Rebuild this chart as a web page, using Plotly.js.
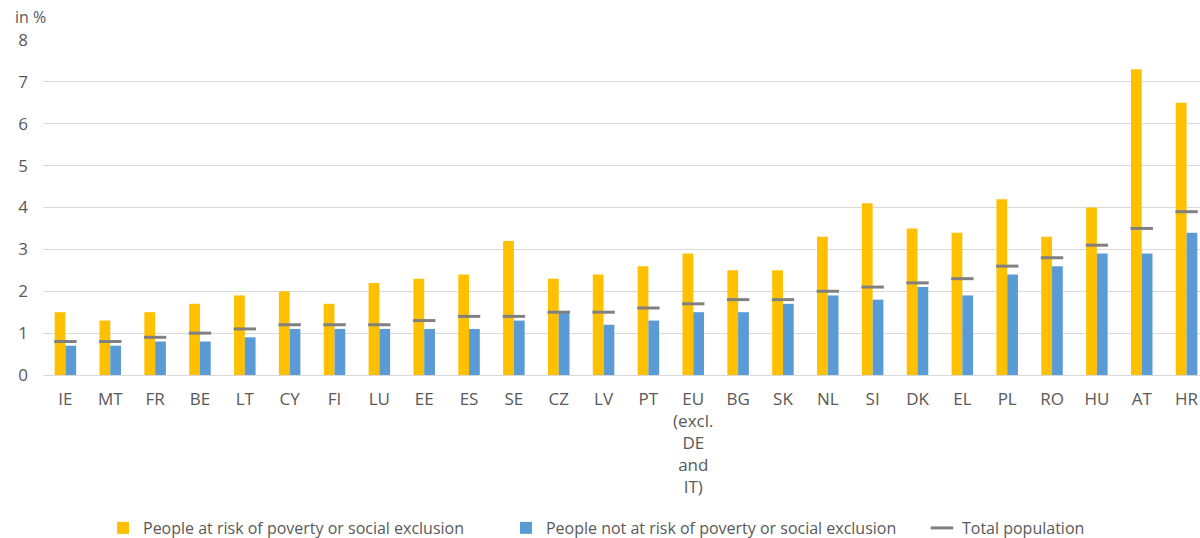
<!DOCTYPE html>
<html>
<head>
<meta charset="utf-8">
<script src="https://cdn.plot.ly/plotly-3.0.1.min.js"></script>
<style>html,body{margin:0;padding:0;overflow:hidden;background:#fff;}#chart{width:1209px;height:538px;}</style>
</head>
<body>
<div id="chart"></div>
<script>
const categories = ["IE","MT","FR","BE","LT","CY","FI","LU","EE","ES","SE","CZ","LV","PT","EU<br>(excl.<br>DE<br>and<br>IT)","BG","SK","NL","SI","DK","EL","PL","RO","HU","AT","HR"];
const atRisk    = [1.5,1.3,1.5,1.7,1.9,2.0,1.7,2.2,2.3,2.4,3.2,2.3,2.4,2.6,2.9,2.5,2.5,3.3,4.1,3.5,3.4,4.2,3.3,4.0,7.3,6.5];
const notAtRisk = [0.7,0.7,0.8,0.8,0.9,1.1,1.1,1.1,1.1,1.1,1.3,1.5,1.2,1.3,1.5,1.5,1.7,1.9,1.8,2.1,1.9,2.4,2.6,2.9,2.9,3.4];
const totalPop  = [0.8,0.8,0.9,1.0,1.1,1.2,1.2,1.2,1.3,1.4,1.4,1.5,1.5,1.6,1.7,1.8,1.8,2.0,2.1,2.2,2.3,2.6,2.8,3.1,3.5,3.9];
const seriesNames = ["People at risk of poverty or social exclusion","People not at risk of poverty or social exclusion","Total population"];
const yTicks = [0,1,2,3,4,5,6,7,8];

const font = {family: "Open Sans, Liberation Sans, sans-serif", color: "#595959"};
const legFont = Object.assign({size: 16}, font);

const traces = [
  {type: "bar", name: seriesNames[0], x: categories, y: atRisk, marker: {color: "#FFC000"}, hoverinfo: "y", legend: "legend"},
  {type: "bar", name: seriesNames[1], x: categories, y: notAtRisk, marker: {color: "#5B9BD5"}, hoverinfo: "y", legend: "legend2"},
  {type: "scatter", mode: "markers", name: seriesNames[2], x: categories, y: totalPop,
   marker: {symbol: "line-ew", size: 16, color: "#808080", line: {color: "#808080", width: 3}}, hoverinfo: "y", legend: "legend3"}
];

function leg(x) {
  return {orientation: "h", xref: "container", yref: "container", x: x, xanchor: "left", y: 0.0186, yanchor: "middle",
          font: legFont, bgcolor: "rgba(0,0,0,0)"};
}

const layout = {
  width: 1209, height: 538,
  margin: {l: 43, r: 0, t: 40, b: 163, autoexpand: false},
  paper_bgcolor: "#ffffff", plot_bgcolor: "#ffffff",
  font: Object.assign({size: 16}, font),
  barmode: "group", bargap: 0.52, bargroupgap: 0,
  showlegend: true,
  legend: leg(0.0852),
  legend2: leg(0.4185),
  legend3: leg(0.7626),
  xaxis: {type: "category", range: [-0.5, categories.length - 0.5], tickfont: Object.assign({size: 17}, font), showgrid: false, automargin: false,
          showline: false, ticks: "", zeroline: false, ticklabelstandoff: 12},
  yaxis: {range: [0, 8], tickvals: yTicks, ticktext: yTicks.map(String), tickfont: Object.assign({size: 17}, font),
          showgrid: true, gridcolor: "#D9D9D9", gridwidth: 1, zeroline: true, zerolinecolor: "#D9D9D9", zerolinewidth: 1,
          showline: false, ticks: "", ticklabelstandoff: 14, automargin: false, fixedrange: true},
  annotations: [{text: "in %", xref: "paper", yref: "paper", x: -0.026, y: 1.068, xanchor: "left", yanchor: "middle",
                 showarrow: false, font: Object.assign({size: 16}, font)}]
};

Plotly.newPlot("chart", traces, layout, {displayModeBar: false, staticPlot: true});
</script>
</body>
</html>
